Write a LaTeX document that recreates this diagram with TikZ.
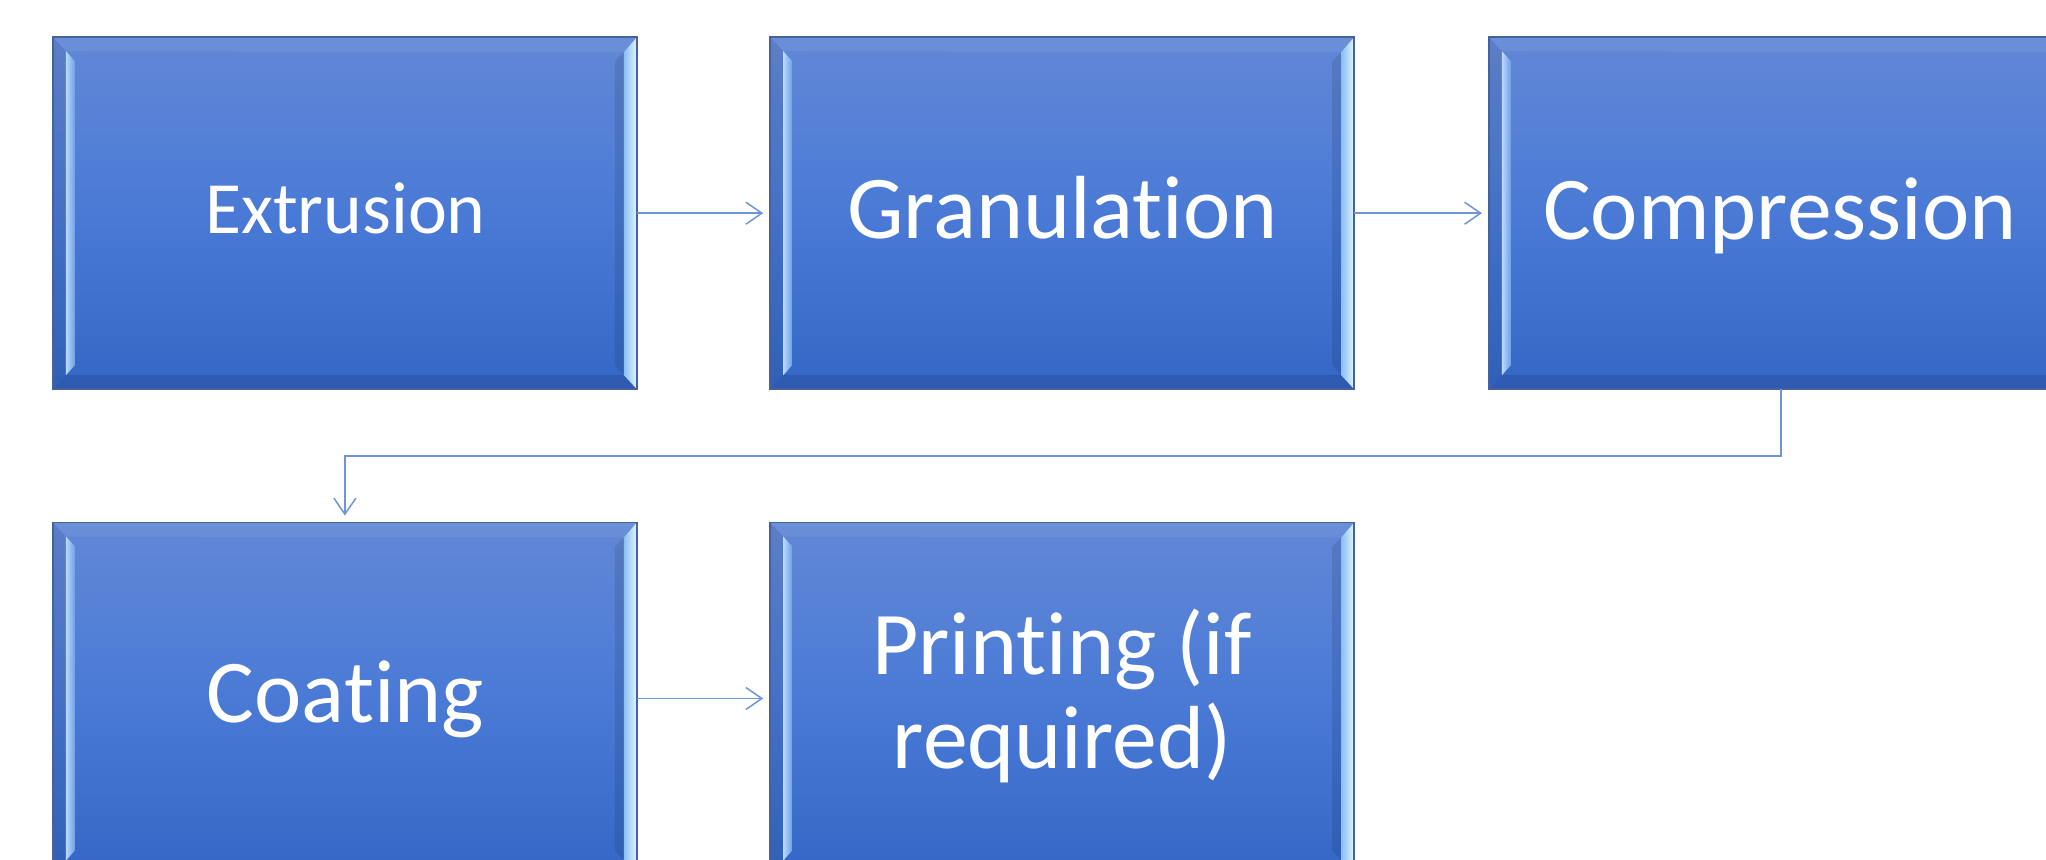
\documentclass[tikz,border=0pt]{standalone}
\usepackage{fontspec}
\setmainfont[Ligatures={NoCommon}]{Carlito}
\usetikzlibrary{arrows.meta,calc}

\definecolor{boxtop}{RGB}{98,136,214}
\definecolor{boxmid}{RGB}{74,122,214}
\definecolor{boxbot}{RGB}{52,103,198}
\definecolor{boxrim}{RGB}{70,98,158}
\definecolor{linkblue}{RGB}{110,148,218}
\definecolor{bevelhi}{RGB}{224,245,255}
\definecolor{bevello}{RGB}{140,190,242}
\definecolor{leftlo}{RGB}{112,158,230}
\definecolor{lefthi}{RGB}{184,218,255}
\definecolor{basefacet}{RGB}{46,90,178}

\begin{document}
\begin{tikzpicture}[x=1bp,y=-1bp,
  stage/.style={rectangle, minimum width=584bp, minimum height=352bp,
    inner sep=0pt, outer sep=0pt,
    top color=boxtop, bottom color=boxbot, middle color=boxmid},
  rim/.style={draw=boxrim, line width=1.6bp},
  lbl/.style={text=white, inner sep=0pt, anchor=base,
    font=\fontsize{90}{94}\selectfont},
  link/.style={draw=linkblue, line width=1.5bp,
    -{Straight Barb[length=16bp,width=22bp]}, shorten >=7bp}]

\useasboundingbox (0,0) rectangle (2046,860);
\clip (0,0) rectangle (2046,860);

% process stages
\node[stage] (A) at (344.9,213.2) {};
\node[stage] (B) at (1062.2,213.2) {};
\node[stage] (C) at (1780.9,213.2) {};
\node[stage] (D) at (344.9,698.5) {};
\node[stage] (E) at (1062.2,698.5) {};

% bevelled edges of every stage box
\foreach \n in {A,B,C,D,E}{
  % left facet
  \fill[black, opacity=0.07] (\n.north west) -- ([shift={(13,14)}]\n.north west)
    -- ([shift={(13,-14)}]\n.south west) -- (\n.south west) -- cycle;
  % top facet
  \fill[white, opacity=0.06] (\n.north west) -- (\n.north east)
    -- ([shift={(-13,15)}]\n.north east) -- ([shift={(13,14)}]\n.north west) -- cycle;
  % bottom facet
  \fill[basefacet] (\n.south west) -- ([shift={(13,-14)}]\n.south west)
    -- ([shift={(-13,-14)}]\n.south east) -- (\n.south east) -- cycle;
  % left highlight strip
  \shade[left color=lefthi, right color=leftlo]
    ([shift={(13,14)}]\n.north west) -- ([shift={(22,24)}]\n.north west)
    -- ([shift={(22,-24)}]\n.south west) -- ([shift={(13,-14)}]\n.south west) -- cycle;
  % right inner shadow strip
  \fill[black, opacity=0.10]
    ([shift={(-13,15)}]\n.north east) -- ([shift={(-22,24)}]\n.north east)
    -- ([shift={(-22,-24)}]\n.south east) -- ([shift={(-13,-14)}]\n.south east) -- cycle;
  % right bright facet
  \shade[left color=bevello, right color=bevelhi]
    (\n.north east) -- ([shift={(-13,15)}]\n.north east)
    -- ([shift={(-13,-14)}]\n.south east) -- (\n.south east) -- cycle;
  \draw[rim] (\n.north west) rectangle (\n.south east);
}

% stage labels
\node[lbl, font=\fontsize{74}{80}\selectfont] (A-t) at (345.5,233.3) {Extrusion};
\node[lbl] (B-t) at (1062.5,238.8) {Granulation};
\node[lbl] (C-t) at (1780.0,239.0) {Compression};
\node[lbl] (D-t) at (345.5,722.0) {Coating};
\node[lbl, align=center] (E-t) at (1062.2,768.0) {Printing (if\\required)};

% flow connectors
\draw[link] (A.east) -- (B.west);
\draw[link] (B.east) -- (C.west);
\draw[link] (C.south) -- ++(0,67) -| (D.north);
\draw[link] (D.east) -- (E.west);
\end{tikzpicture}
\end{document}
